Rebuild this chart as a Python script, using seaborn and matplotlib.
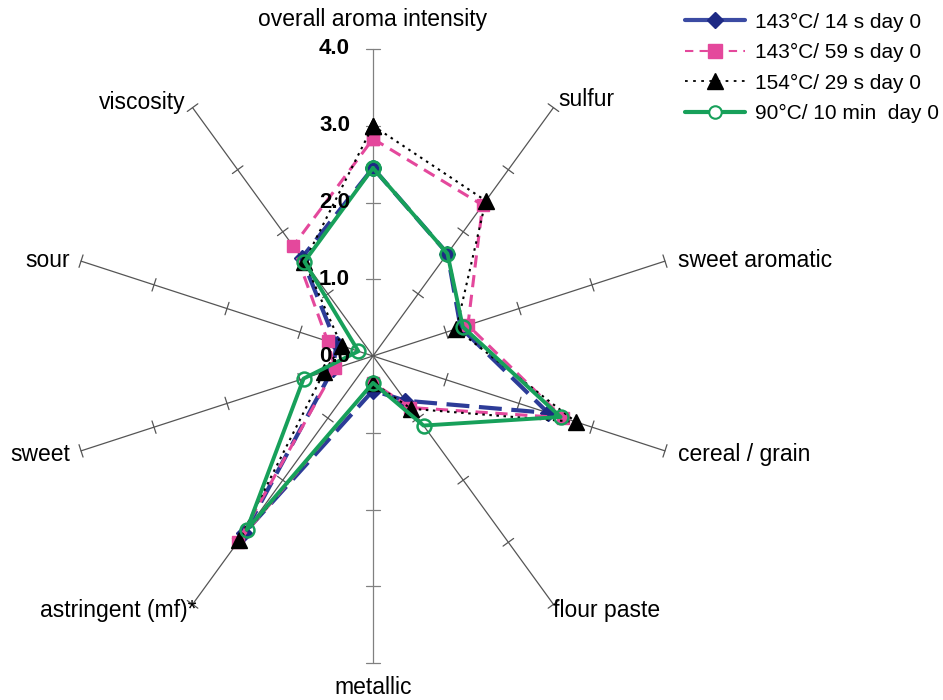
import numpy as np
import pandas as pd
import matplotlib
matplotlib.use("Agg")
import matplotlib.pyplot as plt
from matplotlib.lines import Line2D
import seaborn as sns

# attributes, clockwise from the top
categories = ["overall aroma intensity", "sulfur", "sweet aromatic", "cereal / grain",
              "flour paste", "metallic", "astringent (mf)*", "sweet", "sour", "viscosity"]

series_names = ["143°C/ 14 s day 0", "143°C/ 59 s day 0",
                "154°C/ 29 s day 0", "90°C/ 10 min  day 0"]

uht_143_14 = [2.45, 1.65, 1.20, 2.40, 0.72, 0.45, 2.85, 0.55, 0.50, 1.58]
uht_143_59 = [2.83, 2.43, 1.30, 2.60, 0.83, 0.35, 3.00, 0.52, 0.62, 1.77]
uht_154_29 = [3.00, 2.50, 1.14, 2.78, 0.85, 0.35, 2.97, 0.67, 0.43, 1.52]
htst_90_10 = [2.45, 1.65, 1.23, 2.57, 1.12, 0.35, 2.80, 0.95, 0.20, 1.52]

scale_ticks = [0.0, 1.0, 2.0, 3.0, 4.0]
r_max = 4.0

sns.set_style("white")
plt.rcParams["font.family"] = ["Liberation Sans", "DejaVu Sans"]
plt.rcParams["text.color"] = "black"

W, H = 943, 700
fig = plt.figure(figsize=(W / 100, H / 100), dpi=100)
ax = fig.add_axes([0, 0, 1, 1])

# pixel geometry of the radar
cx, cy, unit = 373, 356, 76.75
ax.set_xlim(-cx / unit, (W - cx) / unit)
ax.set_ylim(-(H - cy) / unit, cy / unit)
ax.axis("off")

angles = np.deg2rad(np.arange(len(categories)) * 360 / len(categories))
sx, sy = np.sin(angles), np.cos(angles)

# spokes with tick marks
tick_half = 0.085
for i, (a_sin, a_cos) in enumerate(zip(sx, sy)):
    col = "#808080" if i in (0, 5) else "#555555"
    ax.plot([0, r_max * a_sin], [0, r_max * a_cos], color=col, lw=0.9, zorder=1)
    for t in scale_ticks[1:]:
        px, py = t * a_sin, t * a_cos
        ax.plot([px - tick_half * a_cos, px + tick_half * a_cos],
                [py + tick_half * a_sin, py - tick_half * a_sin],
                color=col, lw=0.9, zorder=1)

# scale labels on the top spoke
for t in scale_ticks:
    ax.text(-0.30, t, f"{t:.1f}", ha="right", va="center", color="black",
            fontsize=16, fontweight="bold", zorder=6)

# category labels (offsets in points from the spoke end)
label_offsets = [(0, 21, "center", "center"), (3.6, 5.8, "left", "center"),
                 (9.4, 0.7, "left", "center"), (9.4, -2.9, "left", "center"),
                 (0, -4.3, "left", "center"), (0, -18, "center", "center"),
                 (2.9, -4.3, "right", "center"), (-7.9, -2.9, "right", "center"),
                 (-7.9, 0.7, "right", "center"), (-5, 3.6, "right", "center")]
for name, a_sin, a_cos, (dx, dy, ha, va) in zip(categories, sx, sy, label_offsets):
    ax.annotate(name, xy=(r_max * a_sin, r_max * a_cos), xytext=(dx, dy),
                textcoords="offset points", ha=ha, va=va, fontsize=16.5, color="black")

styles = [
    dict(color="#2d3c98", marker="D", ms=8, mfc="#1e2a85", mec="#1e2a85", lw=3.0, dash=(5.5, 2.3)),
    dict(color="#e4489c", marker="s", ms=9, mfc="#e4489c", mec="#e4489c", lw=2.2, dash=(4, 2.5)),
    dict(color="black", marker="^", ms=11, mfc="black", mec="black", lw=1.5, dash=(1.2, 2.2)),
    dict(color="#17a05a", marker="o", ms=10, mfc="none", mec="#17a05a", lw=2.8, dash=None),
]

for vals, st in zip([uht_143_14, uht_143_59, uht_154_29, htst_90_10], styles):
    r = np.array(vals + vals[:1])
    df = pd.DataFrame({"x": r * np.append(sx, sx[0]), "y": r * np.append(sy, sy[0])})
    sns.lineplot(data=df, x="x", y="y", sort=False, estimator=None, ax=ax,
                 color=st["color"], lw=st["lw"], marker=st["marker"], ms=st["ms"],
                 markerfacecolor=st["mfc"], markeredgecolor=st["mec"],
                 markeredgewidth=1.8 if st["mfc"] == "none" else 1.0, zorder=3)
    if st["dash"] is not None:
        ax.lines[-1].set_dashes(st["dash"])

ax.set_xlabel("")
ax.set_ylabel("")

# legend (blue drawn solid as in the original)
handles = [
    Line2D([], [], color="#3b4ba3", lw=3, marker="D", ms=8, mfc="#1e2a85", mec="#1e2a85"),
    Line2D([], [], color="#e4489c", lw=1.5, ls=(0, (4, 3)), marker="s", ms=10, mfc="#e4489c", mec="#e4489c"),
    Line2D([], [], color="black", lw=1.3, ls=(0, (1.5, 3)), marker="^", ms=11, mfc="black", mec="black"),
    Line2D([], [], color="#17a05a", lw=3, marker="o", ms=9, mfc="white", mec="#17a05a", mew=1.5),
]
leg = fig.legend(handles, series_names, loc="upper left", bbox_to_anchor=(672 / W, 1.0),
                 frameon=False, fontsize=15, handlelength=2.9, handletextpad=0.5,
                 labelspacing=0.55, borderpad=0.1)
for txt in leg.get_texts():
    txt.set_color("black")

fig.savefig("out.png", dpi=100)
